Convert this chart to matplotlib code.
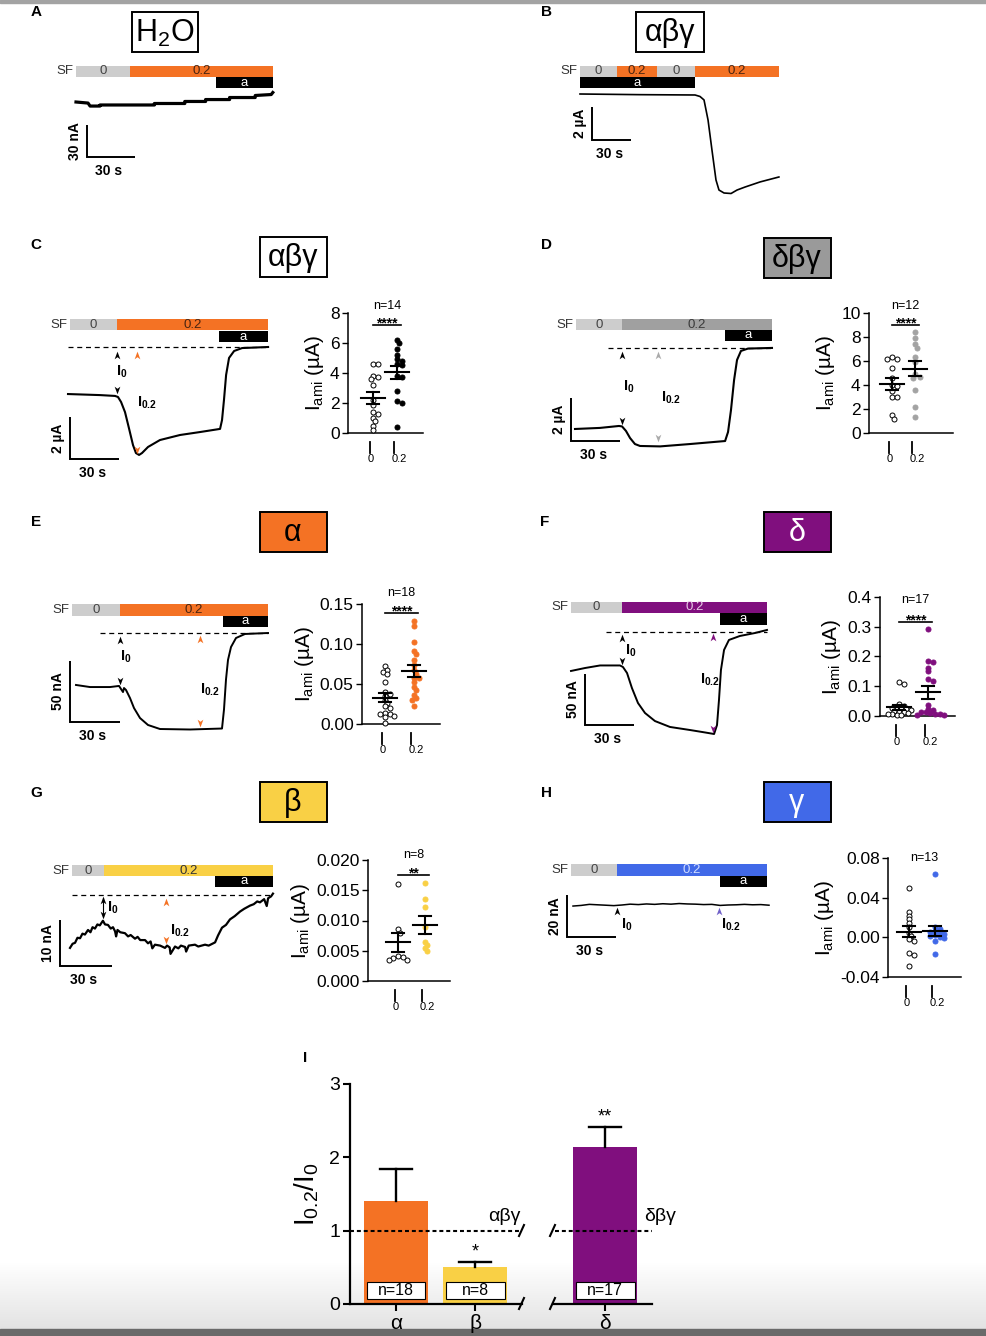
import numpy as np
import matplotlib
matplotlib.use('Agg')
import matplotlib.pyplot as plt
import matplotlib.transforms as mtransforms
from matplotlib.patches import Rectangle
from matplotlib.lines import Line2D
from matplotlib.path import Path
from matplotlib.colors import LinearSegmentedColormap

plt.rcParams['font.family'] = ['Liberation Sans', 'DejaVu Sans']
plt.rcParams['mathtext.fontset'] = 'custom'
plt.rcParams['mathtext.rm'] = 'Liberation Sans'
plt.rcParams['mathtext.it'] = 'Liberation Sans:italic'
plt.rcParams['mathtext.bf'] = 'Liberation Sans:bold'

# ---------------- data ----------------
# traces: time (s) and current (nA for A, E, F, G, H; uA for B, C, D)
a_t = [0, 7.5, 8.8, 15, 15, 49, 49, 68, 68, 81, 81, 96, 96, 112, 112, 122, 123]
a_i = [0, -1, -3.8, -3.8, -2.8, -2.8, -1.4, -1.4, 0.5, 0.5, 2.3, 2.3, 4.2, 4.2, 6.1, 7.0, 8.9]
a_sf = [0, 33.8, 123]
a_ami = [87.5, 123]

b_t = [0, 46, 88.5, 92.3, 95.4, 98.5, 101.5, 104.6, 106.9, 110.8, 116.2, 120.8, 126.9, 138.5, 153]
b_i = [0, -0.04, -0.06, -0.15, -0.36, -1.58, -3.39, -5.21, -5.82, -6.0, -6.03, -5.82, -5.64, -5.33, -5.03]
b_sf = [0, 28.5, 59.2, 88.5, 153]
b_ami = [0, 88.5]

c_t = [0, 19.6, 28.8, 30.6, 32.5, 34.9, 37.3, 39.8, 41.6, 43.5, 45.3, 49.0, 56.3, 68.6, 80.8,
       93.1, 94.3, 95.5, 96.8, 98.6, 101.7, 106.6, 122.5]
c_i = [-2.24, -2.29, -2.33, -2.38, -2.62, -3.10, -3.86, -4.67, -5.05, -5.14, -5.05, -4.76, -4.43,
       -4.19, -4.05, -3.90, -3.48, -2.52, -1.33, -0.52, -0.19, -0.05, 0]
c_sf = [1.2, 30, 122.5]
c_ami = [92.5, 122.5]

d_t = [0, 15.3, 26.9, 28.8, 31.2, 33.7, 36.7, 39.8, 52.1, 70.4, 91.9, 93.7, 95.5, 97.4, 99.2,
       101.6, 105.9, 120.6]
d_i = [-3.79, -3.74, -3.65, -3.67, -3.88, -4.21, -4.49, -4.58, -4.60, -4.49, -4.35, -3.93, -2.91,
       -1.51, -0.58, -0.16, -0.05, -0.02]
d_sf = [0.6, 28.8, 120.6]
d_ami = [91.9, 120.6]

e_t = [0, 8.4, 20.4, 25.8, 27.0, 28.2, 28.8, 30.0, 32.4, 34.8, 38.4, 43.2, 50.4, 68.4, 87.6,
       88.8, 90.0, 91.2, 93.0, 96.0, 101.4, 115.2]
e_i = [-42.6, -44.3, -44.3, -43.4, -45.9, -48.4, -45.1, -46.7, -53.3, -61.5, -69.7, -75.4, -78.7,
       -79.1, -78.3, -62.7, -38.1, -22.1, -11.5, -4.1, -0.8, 0]
e_sf = [-2.4, 26.4, 115.2]
e_ami = [88.2, 115.2]

f_t = [0, 8.6, 17.8, 30.0, 31.8, 34.3, 37.3, 41.0, 45.3, 51.4, 60.6, 72.9, 82.1, 87.6, 89.4,
       90.6, 91.8, 93.7, 96.7, 103.4, 112.6, 120.0]
f_i = [-38.2, -35.3, -32.8, -32.8, -34.3, -40.2, -54.9, -69.6, -79.4, -87.3, -93.1, -96.1, -98.5,
       -100, -91.2, -66.7, -37.3, -17.6, -7.8, -3.9, -1.0, 2.0]
f_sf = [0, 31.2, 120]
f_ami = [91.2, 120]

g_t = [0, 1.5, 2.9, 4.3, 5.8, 7.2, 8.6, 10.4, 11.8, 13.0,
       14.4, 15.8, 17.2, 19.0, 20.2, 21.9, 23.5, 24.8, 26.0, 26.6,
       27.4, 29.0, 31.7, 33.5, 35.0, 37.5, 39.0, 40.5, 43.3, 45.0,
       46.5, 47.5, 49.0, 52.0, 54.8, 56.0, 57.5, 58.0, 60.6, 62.5,
       64.0, 66.4, 67.0, 68.5, 72.1, 74.0, 77.9, 80.0, 83.7, 85.4,
       87.7, 90.0, 92.3, 95.0, 98.1, 100.5, 103.9, 106.0, 108.0, 109.6,
       112.0, 113.5, 114.3, 116.0, 117.1]
g_i = [-11.5, -10.6, -10.4, -9.3, -9.4, -8.4, -8.6, -7.6, -8.1, -7.0,
       -7.3, -6.4, -6.6, -5.6, -6.4, -6.5, -7.3, -7.0, -7.9, -9.0,
       -7.6, -8.1, -8.3, -9.0, -8.7, -9.5, -9.1, -9.8, -9.8, -10.5,
       -10.1, -11.6, -10.8, -11.0, -11.5, -11.0, -11.4, -12.8, -11.2, -11.6,
       -11.0, -11.3, -12.3, -11.0, -10.8, -11.2, -10.8, -11.0, -10.3, -8.8,
       -7.1, -6.5, -5.3, -4.6, -3.6, -3.0, -2.3, -2.0, -1.4, -1.6,
       -0.9, -2.4, -0.7, -0.3, 0.3]
g_sf = [1.2, 19.6, 117.1]
g_ami = [83.7, 117.1]

h_t = [0, 5, 10, 15, 20, 25, 30, 35, 40, 45, 50, 55, 60, 65, 70, 75, 80, 85, 90, 95, 100, 105, 110, 115, 120]
h_i = [-0.5, -0.2, 0.3, 0.1, -0.1, -0.3, 0.0, 0.4, 0.2, 0.5, 0.3, 0.6, 0.4, 0.7, 0.5, 0.4, 0.2,
       0.3, -0.2, 0.0, 0.1, 0.3, 0.1, 0.2, -0.1]
h_sf = [-1.2, 26.9, 118.8]
h_ami = [90, 118.8]

# amiloride-sensitive currents (uA), SF 0 vs SF 0.2
c_0 = [4.6, 4.6, 3.8, 3.6, 3.7, 3.2, 2.2, 1.9, 1.4, 1.3, 1.0, 0.8, 0.5, 0.2]
c_02 = [6.2, 6.0, 5.6, 5.2, 4.9, 4.8, 4.6, 4.5, 3.8, 3.7, 2.8, 2.1, 2.0, 0.4]
d_0 = [6.3, 6.2, 6.2, 5.4, 4.6, 4.0, 3.9, 3.5, 3.0, 3.0, 1.5, 1.2]
d_02 = [8.4, 7.9, 7.4, 7.1, 6.3, 5.9, 4.9, 4.7, 4.6, 3.6, 2.2, 1.3]
e_0 = [0.072, 0.068, 0.065, 0.062, 0.053, 0.040, 0.038, 0.035, 0.030, 0.026, 0.022, 0.020,
       0.014, 0.013, 0.012, 0.010, 0.009, 0.001]
e_02 = [0.129, 0.123, 0.103, 0.091, 0.087, 0.080, 0.074, 0.067, 0.063, 0.058, 0.057, 0.052,
        0.046, 0.042, 0.036, 0.032, 0.030, 0.022]
f_0 = [0.113, 0.108, 0.040, 0.035, 0.030, 0.028, 0.025, 0.022, 0.020, 0.018, 0.015, 0.012,
       0.010, 0.008, 0.006, 0.004, 0.002]
f_02 = [0.292, 0.186, 0.180, 0.163, 0.150, 0.125, 0.118, 0.038, 0.025, 0.020, 0.015, 0.012,
        0.010, 0.008, 0.006, 0.005, 0.004]
g_0 = [0.0160, 0.0086, 0.0080, 0.0041, 0.0038, 0.0035, 0.0035, 0.0039]
g_02 = [0.0162, 0.0135, 0.0122, 0.0090, 0.0065, 0.0060, 0.0055, 0.0050]
h_0 = [0.050, 0.026, 0.022, 0.018, 0.014, 0.010, 0.004, 0.001, -0.002, -0.004, -0.016, -0.018, -0.029]
h_02 = [0.064, 0.010, 0.008, 0.006, 0.005, 0.004, 0.003, 0.002, 0.001, 0.000, -0.001, -0.004, -0.017]

# panel I: I0.2/I0 ratio
i_labels = ['α', 'β', 'δ']
i_mean = [1.40, 0.51, 2.14]
i_sem = [0.44, 0.06, 0.27]
i_n = [18, 8, 17]

ORANGE = '#F47224'
YELLOW = '#F9D045'
PURPLE = '#800F7E'
BLUE = '#4169E8'
LGRAY = '#CDCDCD'
DGRAY = '#A0A0A0'

W, H = 986, 1336
fig = plt.figure(figsize=(W / 100, H / 100), dpi=100)
PX = mtransforms.Affine2D().scale(1 / W, -1 / H).translate(0, 1) + fig.transFigure

# background (screen capture edges)
bg = fig.add_axes([0, 0, 1, 1], zorder=-5)
bg.imshow(np.linspace(0, 1, 60)[:, None], extent=(0, W, 1329, 1262), aspect='auto',
          cmap=LinearSegmentedColormap.from_list('g', ['white', '#e3e3e3']))
bg.add_patch(Rectangle((0, 0), W, 2.5, color='#a3a3a3'))
bg.add_patch(Rectangle((0, 1329), W, 7, color='#6a6a6a'))
bg.set_xlim(0, W)
bg.set_ylim(H, 0)
bg.axis('off')

UP = Path([(0, 1), (0.75, -1), (0, -0.45), (-0.75, -1), (0, 1)],
          [Path.MOVETO, Path.LINETO, Path.LINETO, Path.LINETO, Path.CLOSEPOLY])
DOWN = Path([(0, -1), (0.75, 1), (0, 0.45), (-0.75, 1), (0, -1)],
            [Path.MOVETO, Path.LINETO, Path.LINETO, Path.LINETO, Path.CLOSEPOLY])


def box_axes(l, t, r, b, **kw):
    return fig.add_axes([l / W, 1 - b / H, (r - l) / W, (b - t) / H], **kw)


def trace_ax(box, x0, pps, yref, ppu):
    l, t, r, b = box
    ax = box_axes(l, t, r, b)
    ax.set_xlim((l - x0) / pps, (r - x0) / pps)
    ax.set_ylim((yref - b) / ppu, (yref - t) / ppu)
    ax.axis('off')
    return ax, mtransforms.blended_transform_factory(ax.transData, PX)


def sweep(ax, bl, edges, labels, fills, tcols, y, h=11):
    for k in range(len(labels)):
        ax.add_patch(Rectangle((edges[k], y), edges[k + 1] - edges[k], h, transform=bl,
                               facecolor=fills[k], edgecolor='none', clip_on=False))
        ax.text((edges[k] + edges[k + 1]) / 2, y + h / 2, labels[k], transform=bl, ha='center',
                va='center', fontsize=9.5, color=tcols[k], clip_on=False)
    ax.annotate('SF', (edges[0], y + h / 2), xycoords=bl, xytext=(-3, 0), textcoords='offset pixels',
                ha='right', va='center', fontsize=9.5, color='#333333', annotation_clip=False)


def ami(ax, bl, span, y, h=11):
    ax.add_patch(Rectangle((span[0], y), span[1] - span[0], h, transform=bl, facecolor='black',
                           edgecolor='none', clip_on=False))
    ax.text((span[0] + span[1]) / 2, y + h / 2, 'a', transform=bl, ha='center', va='center',
            fontsize=9.5, color='white', clip_on=False)


def scalebar(ax, tx, ibot, dt, di, ylab, xlab):
    ax.plot([tx, tx, tx + dt], [ibot + di, ibot, ibot], color='k', lw=1.4, clip_on=False,
            solid_capstyle='butt', solid_joinstyle='miter')
    ax.annotate(ylab, (tx, ibot + di / 2), xytext=(-12, 0), textcoords='offset pixels', rotation=90,
                ha='center', va='center', fontsize=10, fontweight='bold', annotation_clip=False)
    ax.annotate(xlab, (tx + dt / 2, ibot), xytext=(-2, -14), textcoords='offset pixels',
                ha='center', va='center', fontsize=10, fontweight='bold', annotation_clip=False)


def mark(ax, bl, t, y, up, color):
    ax.plot([t], [y], marker=UP if up else DOWN, ms=5.5, color=color, mew=0, transform=bl,
            clip_on=False, zorder=4)


def ilabel(ax, bl, t, y, sub):
    ax.text(t, y, r'$\mathbf{I_{%s}}$' % sub, transform=bl, ha='left', va='center', fontsize=10.5,
            clip_on=False)


def dashed(ax, t0, t1):
    ax.plot([t0, t1], [0, 0], color='k', lw=0.9, ls=(0, (4, 3)), clip_on=False, zorder=1)


def letter(x, y, s):
    fig.text(x, y, s, transform=PX, ha='center', va='center', fontsize=11, fontweight='bold')


def tbox(cx, cy, label, fc, tc, w=67, h=40):
    fig.add_artist(Rectangle((cx - w / 2, cy - h / 2), w, h, transform=PX, facecolor=fc,
                             edgecolor='k', lw=1.4))
    fig.text(cx, cy + 1, label, transform=PX, ha='center', va='center', fontsize=22, color=tc)


def swarm(vals, ypp, xpp, d=4.6):
    vals = np.asarray(vals, float)
    xs = np.zeros(len(vals))
    placed = []
    for k in np.argsort(-vals):
        y = vals[k] * ypp
        off = 0.0
        for j in range(40):
            off = ((j + 1) // 2) * 0.5 * d * (1 if j % 2 else -1)
            if all((off - px) ** 2 + (y - py) ** 2 >= (0.8 * d) ** 2 for px, py in placed):
                break
        placed.append((off, y))
        xs[k] = off / xpp
    return xs


def scatter_panel(box, ticks, ylim, yticks, ylabels, g0, g1, col, nlab, ny, sig=None, sy=None):
    l, t, r, b = box
    ax = box_axes(l, t, r, b)
    ax.patch.set_alpha(0)
    u = ticks[1] - ticks[0]
    ax.set_xlim((l - ticks[0]) / u, (r - ticks[0]) / u)
    ax.set_ylim(*ylim)
    ypp = (b - t) / (ylim[1] - ylim[0])
    gx = 3 / u
    for k, (vals, fc, ec) in enumerate([(g0, 'white', 'k'), (g1, col, col)]):
        xs = k + gx + swarm(vals, ypp, u)
        ax.plot(xs, vals, 'o', ms=3.6, mfc=fc, mec=ec, mew=0.7, ls='none', clip_on=False, zorder=3)
        m = np.mean(vals)
        s = np.std(vals, ddof=1) / np.sqrt(len(vals))
        c = k + gx
        ax.plot([c - 12 / u, c + 12 / u], [m, m], color='k', lw=1.5, zorder=4)
        ax.plot([c, c], [m - s, m + s], color='k', lw=1.5, zorder=4)
        for v in (m - s, m + s):
            ax.plot([c - 6 / u, c + 6 / u], [v, v], color='k', lw=1.5, zorder=4)
    for sp in ('top', 'right'):
        ax.spines[sp].set_visible(False)
    for sp in ('left', 'bottom'):
        ax.spines[sp].set_linewidth(1.1)
    ax.set_xticks([])
    ax.set_yticks(yticks)
    ax.set_yticklabels(ylabels)
    ax.tick_params(axis='y', direction='out', length=4, width=1.0, labelsize=12.5, pad=2)
    ax.set_ylabel(r'$\mathrm{I_{ami}}$ (µA)', fontsize=15, labelpad=3)
    tr = mtransforms.blended_transform_factory(ax.transData, PX)
    for k, lab in enumerate(['0', '0.2']):
        ax.plot([k, k], [b + 9, b + 20], color='k', lw=1.3, transform=tr, clip_on=False)
        ax.annotate(lab, (k, b + 26), xycoords=tr, xytext=(-2, 0), textcoords='offset pixels',
                    ha='left', va='center', fontsize=8, annotation_clip=False)
    ax.text(0.5 + 5 / u, ny - 1, nlab, transform=tr, ha='center', va='center', fontsize=9,
            clip_on=False)
    if sig:
        ax.plot([3 / u, 1 + 7 / u], [sy, sy], color='k', lw=1.2, transform=tr, clip_on=False)
        ax.text(0.5 + 5 / u, sy + 2.5, sig, transform=tr, ha='center', va='baseline', fontsize=10,
                fontweight='bold', clip_on=False)
    return ax


# ---------------- A ----------------
letter(36, 12, 'A')
tbox(165, 32, r'$\mathrm{H_2O}$', 'white', 'k', w=66)
ax, bl = trace_ax((40, 55, 290, 185), 76, 1.6, 102, 32 / 30)
sweep(ax, bl, a_sf, ['0', '0.2'], [LGRAY, ORANGE], ['#444444', '#4a2410'], 66)
ami(ax, bl, a_ami, 77)
ax.plot(a_t, a_i, color='k', lw=2.3, clip_on=False)
scalebar(ax, 6.9, -51.5, 30, 30, '30 nA', '30 s')

# ---------------- B ----------------
letter(546, 12, 'B')
tbox(670, 32, 'αβγ', 'white', 'k', w=68)
ax, bl = trace_ax((540, 55, 800, 200), 580, 1.3, 94, 16.5)
sweep(ax, bl, b_sf, ['0', '0.2', '0', '0.2'], [LGRAY, ORANGE, LGRAY, ORANGE],
      ['#444444', '#4a2410', '#444444', '#4a2410'], 66)
ami(ax, bl, b_ami, 77)
ax.plot(b_t, b_i, color='k', lw=1.2, clip_on=False)
scalebar(ax, 9.2, -2.79, 30, 2, '2 µA', '30 s')

# ---------------- C ----------------
letter(36, 245, 'C')
tbox(293, 257, 'αβγ', 'white', 'k')
ax, bl = trace_ax((40, 300, 290, 480), 68, 49 / 30, 347, 21)
sweep(ax, bl, c_sf, ['0', '0.2'], [LGRAY, ORANGE], ['#444444', '#4a2410'], 319)
ami(ax, bl, c_ami, 331)
dashed(ax, 0, 122.5)
ax.plot(c_t, c_i, color='k', lw=1.5, clip_on=False, zorder=2)
mark(ax, bl, 30, 355, True, 'k')
mark(ax, bl, 30, 390, False, 'k')
mark(ax, bl, 42.3, 355, True, ORANGE)
mark(ax, bl, 42.3, 450, False, ORANGE)
ilabel(ax, bl, 29.5, 372, '0')
ilabel(ax, bl, 42.0, 403, '0.2')
scalebar(ax, 1.2, -5.33, 30, 2, '2 µA', '30 s')
scatter_panel((348, 313, 423, 433), (370, 394), (0, 8), [0, 2, 4, 6, 8], ['0', '2', '4', '6', '8'],
              c_0, c_02, 'black', 'n=14', 307, '****', 325)

# ---------------- D ----------------
letter(546, 245, 'D')
tbox(797, 258, 'δβγ', '#9a9a9a', 'k')
ax, bl = trace_ax((540, 300, 790, 470), 575, 49 / 30, 347.5, 21.5)
sweep(ax, bl, d_sf, ['0', '0.2'], [LGRAY, DGRAY], ['#444444', '#3a3a3a'], 319)
ami(ax, bl, d_ami, 330)
dashed(ax, 20.2, 120.6)
ax.plot(d_t, d_i, color='k', lw=1.5, clip_on=False, zorder=2)
mark(ax, bl, 28.8, 355, True, 'k')
mark(ax, bl, 28.8, 421, False, 'k')
mark(ax, bl, 50.8, 355, True, '#aaaaaa')
mark(ax, bl, 50.8, 438, False, '#aaaaaa')
ilabel(ax, bl, 29.4, 387, '0')
ilabel(ax, bl, 52.7, 398, '0.2')
scalebar(ax, -2.4, -4.35, 30, 2, '2 µA', '30 s')
scatter_panel((869, 313, 953, 433), (889, 912), (0, 10), [0, 2, 4, 6, 8, 10],
              ['0', '2', '4', '6', '8', '10'], d_0, d_02, '#a3a3a3', 'n=12', 307, '****', 325)

# ---------------- E ----------------
letter(36, 522, 'E')
tbox(293, 532, 'α', ORANGE, 'k')
ax, bl = trace_ax((40, 590, 290, 750), 76, 50 / 30, 633, 61 / 50)
sweep(ax, bl, e_sf, ['0', '0.2'], [LGRAY, ORANGE], ['#444444', '#4a2410'], 604, 12)
ami(ax, bl, e_ami, 616)
dashed(ax, 14.4, 115.2)
ax.plot(e_t, e_i, color='k', lw=1.4, clip_on=False, zorder=2)
mark(ax, bl, 26.4, 640, True, 'k')
mark(ax, bl, 26.4, 681, False, 'k')
mark(ax, bl, 74.4, 639, True, ORANGE)
mark(ax, bl, 74.4, 723, False, ORANGE)
ilabel(ax, bl, 26.4, 657, '0')
ilabel(ax, bl, 74.4, 690, '0.2')
scalebar(ax, -3.6, -73, 30, 50, '50 nA', '30 s')
scatter_panel((362, 604, 440, 724), (382, 411), (0, 0.15), [0, 0.05, 0.10, 0.15],
              ['0.00', '0.05', '0.10', '0.15'], e_0, e_02, ORANGE, 'n=18', 594, '****', 613)

# ---------------- F ----------------
letter(545, 522, 'F')
tbox(797, 532, 'δ', PURPLE, 'white')
ax, bl = trace_ax((540, 590, 790, 750), 571, 49 / 30, 632, 51 / 50)
sweep(ax, bl, f_sf, ['0', '0.2'], [LGRAY, PURPLE], ['#444444', '#e6c8e6'], 602)
ami(ax, bl, f_ami, 613, 12)
dashed(ax, 21.4, 120)
ax.plot(f_t, f_i, color='k', lw=1.4, clip_on=False, zorder=2)
mark(ax, bl, 31.2, 638, True, 'k')
mark(ax, bl, 31.2, 661, False, 'k')
mark(ax, bl, 87, 637, True, PURPLE)
mark(ax, bl, 87, 729, False, PURPLE)
ilabel(ax, bl, 33.2, 651, '0')
ilabel(ax, bl, 79, 680, '0.2')
scalebar(ax, 8.6, -91.2, 30, 50, '50 nA', '30 s')
scatter_panel((880, 597, 955, 716), (896, 925), (0, 0.4), [0, 0.1, 0.2, 0.3, 0.4],
              ['0.0', '0.1', '0.2', '0.3', '0.4'], f_0, f_02, PURPLE, 'n=17', 601, '****', 622)

# ---------------- G ----------------
letter(36, 793, 'G')
tbox(293, 802, 'β', YELLOW, 'k')
ax, bl = trace_ax((40, 855, 290, 995), 70, 52 / 30, 895, 4.6)
sweep(ax, bl, g_sf, ['0', '0.2'], [LGRAY, YELLOW], ['#444444', '#333333'], 865)
ami(ax, bl, g_ami, 876)
dashed(ax, 1.2, 117.1)
ax.plot(g_t, g_i, color='k', lw=1.6, clip_on=False, zorder=2)
ax.plot([19, 19], [898, 916], color='k', lw=0.8, transform=bl, clip_on=False)
mark(ax, bl, 19, 900, True, 'k')
mark(ax, bl, 19, 915, False, 'k')
mark(ax, bl, 55.4, 902, True, ORANGE)
mark(ax, bl, 55.4, 940, False, ORANGE)
ilabel(ax, bl, 21.3, 908, '0')
ilabel(ax, bl, 57.7, 931, '0.2')
scalebar(ax, -5.8, -15.4, 30, 10, '10 nA', '30 s')
scatter_panel((368, 860, 450, 981), (395, 422), (0, 0.02), [0, 0.005, 0.010, 0.015, 0.020],
              ['0.000', '0.005', '0.010', '0.015', '0.020'], g_0, g_02, YELLOW, 'n=8', 856,
              '**', 875)

# ---------------- H ----------------
letter(546, 793, 'H')
tbox(797, 802, 'γ', BLUE, 'white')
ax, bl = trace_ax((540, 855, 790, 960), 573, 49 / 30, 905, 42 / 20)
sweep(ax, bl, h_sf, ['0', '0.2'], [LGRAY, BLUE], ['#444444', '#d0dcff'], 864, 12)
ami(ax, bl, h_ami, 876)
ax.plot(h_t, h_i, color='k', lw=1.1, clip_on=False, zorder=2)
mark(ax, bl, 26.9, 911, True, 'k')
mark(ax, bl, 89.4, 911, True, '#7060C8')
ilabel(ax, bl, 29.4, 925, '0')
ilabel(ax, bl, 90.6, 925, '0.2')
scalebar(ax, -3.7, -15.2, 30, 20, '20 nA', '30 s')
scatter_panel((888, 858, 961, 977), (906, 932), (-0.04, 0.08), [-0.04, 0, 0.04, 0.08],
              ['-0.04', '0.00', '0.04', '0.08'], h_0, h_02, BLUE, 'n=13', 859)

# ---------------- I ----------------
letter(305, 1058, 'I')
axL = box_axes(350, 1084, 522, 1304)
axR = box_axes(553, 1084, 652, 1304)
axL.set_xlim(-0.58, 1.59)
axR.set_xlim(-0.66, 0.59)
cols = [ORANGE, YELLOW, PURPLE]
for ax, idx, xs in [(axL, [0, 1], [0, 1]), (axR, [2], [0])]:
    ax.patch.set_alpha(0)
    ax.set_ylim(0, 3)
    for k, x in zip(idx, xs):
        ax.bar(x, i_mean[k], width=0.81, color=cols[k], zorder=2)
        top = i_mean[k] + i_sem[k]
        ax.plot([x, x], [i_mean[k], top], color='k', lw=1.7, zorder=3)
        ax.plot([x - 0.2, x + 0.2], [top, top], color='k', lw=1.7, zorder=3)
        ax.add_patch(Rectangle((x - 0.37, 0.07), 0.74, 0.23, facecolor='white', edgecolor='k',
                               lw=0.8, zorder=4))
        ax.text(x, 0.185, 'n=%d' % i_n[k], ha='center', va='center', fontsize=11.5, zorder=5)
    ax.axhline(1, color='k', lw=1.5, ls=(0, (1.9, 1.4)), zorder=5,
               xmin=0 if ax is axL else 0.02, xmax=0.99 if ax is axL else 1)
    ax.set_xticks(xs)
    ax.set_xticklabels([i_labels[k] for k in idx])
    ax.tick_params(axis='x', direction='out', length=5, width=1.5, labelsize=15, pad=2)
    for sp in ('top', 'right'):
        ax.spines[sp].set_visible(False)
    ax.spines['bottom'].set_linewidth(1.6)
axL.spines['left'].set_linewidth(1.6)
axL.set_yticks([0, 1, 2, 3])
axL.tick_params(axis='y', direction='out', length=5, width=1.5, labelsize=14, pad=2)
axR.spines['left'].set_visible(False)
axR.set_yticks([])
axL.set_ylabel(r'$\mathrm{I_{0.2}/I_0}$', fontsize=20, labelpad=6)
axL.text(1, 0.6, '*', ha='center', va='bottom', fontsize=13)
axR.text(0, 2.44, '**', ha='center', va='bottom', fontsize=13)
axL.text(1.37, 1.19, 'αβγ', ha='center', va='center', fontsize=14, clip_on=False)
axR.text(0.69, 1.19, 'δβγ', ha='center', va='center', fontsize=14, clip_on=False)
for x0, y0 in [(519, 1309), (550, 1309), (519, 1236), (550, 1236)]:
    fig.add_artist(Line2D([x0, x0 + 5], [y0, y0 - 11], transform=PX, color='k', lw=1.5))

fig.savefig('out.png', dpi=100)
